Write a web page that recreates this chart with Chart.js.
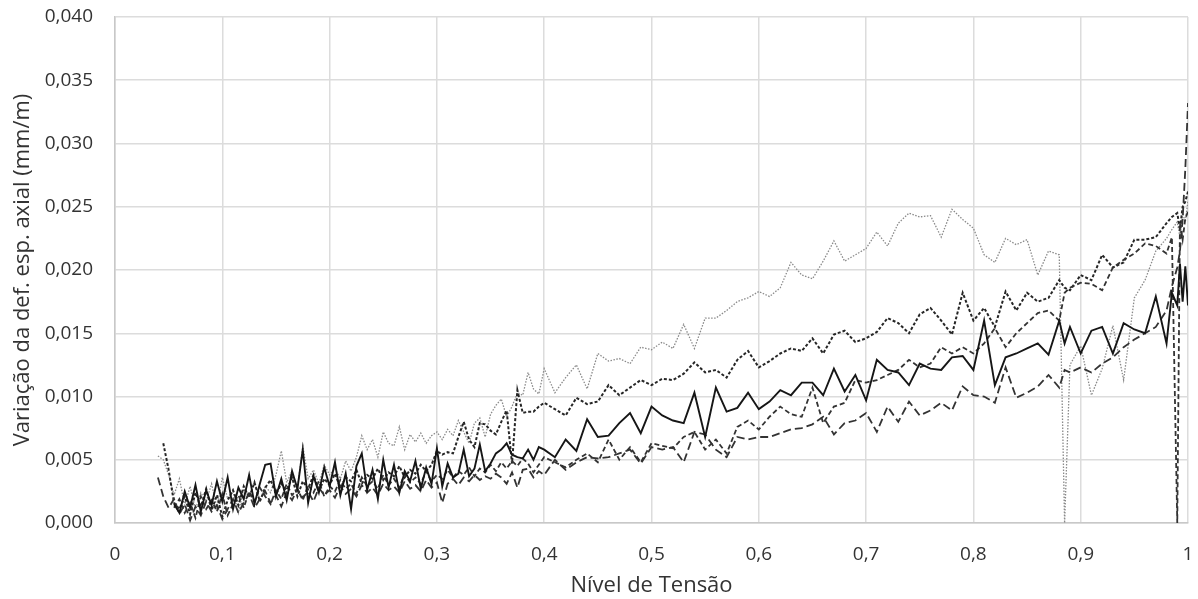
<!DOCTYPE html>
<html>
<head>
<meta charset="utf-8">
<script src="https://cdn.jsdelivr.net/npm/chart.js@4.4.1/dist/chart.umd.min.js"></script>
<style>
  html, body { margin: 0; padding: 0; background: #fff; }
  #wrap { width: 1198px; height: 599px; }
</style>
</head>
<body>
<div id="wrap"><canvas id="grafico" width="1198" height="599"></canvas></div>
<script>
// Nível de tensão (eixo x)
const nivel = [
  0.040, 0.045, 0.050, 0.055, 0.060, 0.065, 0.070, 0.075, 0.080, 0.085,
  0.090, 0.095, 0.100, 0.105, 0.110, 0.115, 0.120, 0.125, 0.130, 0.135,
  0.140, 0.145, 0.150, 0.155, 0.160, 0.165, 0.170, 0.175, 0.180, 0.185,
  0.190, 0.195, 0.200, 0.205, 0.210, 0.215, 0.220, 0.225, 0.230, 0.235,
  0.240, 0.245, 0.250, 0.255, 0.260, 0.265, 0.270, 0.275, 0.280, 0.285,
  0.290, 0.295, 0.300, 0.305, 0.310, 0.315, 0.320, 0.325, 0.330, 0.335,
  0.340, 0.345, 0.350, 0.355, 0.360, 0.365, 0.370, 0.375, 0.380, 0.385,
  0.390, 0.395, 0.400,
  0.41, 0.42, 0.43, 0.44, 0.45, 0.46, 0.47, 0.48, 0.49, 0.50,
  0.51, 0.52, 0.53, 0.54, 0.55, 0.56, 0.57, 0.58, 0.59, 0.60,
  0.61, 0.62, 0.63, 0.64, 0.65, 0.66, 0.67, 0.68, 0.69, 0.70,
  0.71, 0.72, 0.73, 0.74, 0.75, 0.76, 0.77, 0.78, 0.79, 0.80,
  0.81, 0.82, 0.83, 0.84, 0.85, 0.86, 0.87, 0.88,
  0.885,
  0.89, 0.90, 0.91, 0.92, 0.93, 0.94, 0.95, 0.96, 0.97, 0.98,
  0.985, 0.99, 0.9925, 0.995, 0.9975, 1.0
];

// variação da def. esp. axial (mm/m) por ensaio
const serieContinua = [
  null, null, null, 0.0015, 0.0008, 0.0025, 0.0012, 0.003, 0.0009, 0.0026,
  0.0014, 0.0033, 0.0017, 0.0036, 0.0011, 0.0028, 0.0019, 0.0038, 0.0015, 0.0031,
  0.0046, 0.0047, 0.0021, 0.0035, 0.0018, 0.0041, 0.0027, 0.0058, 0.0016, 0.0037,
  0.0024, 0.0044, 0.0029, 0.0048, 0.0022, 0.0039, 0.0011, 0.0045, 0.0055, 0.0026,
  0.0042, 0.0019, 0.005, 0.0028, 0.0046, 0.0024, 0.0041, 0.0033, 0.0049, 0.0027,
  0.0044, 0.0031, 0.0059, 0.0029, 0.0047, 0.0036, 0.0039, 0.0058, 0.0037, 0.0043,
  0.0062, 0.0041, 0.0047, 0.0055, 0.0058, 0.0063, 0.0054, 0.0052, 0.0051, 0.0058,
  0.005, 0.006, 0.0058,
  0.0052, 0.0066, 0.0057, 0.0082, 0.0068, 0.0069, 0.0079, 0.0087, 0.0071, 0.0092,
  0.0085, 0.0081, 0.0079, 0.0103, 0.0068, 0.0107, 0.0088, 0.0091, 0.0103, 0.009,
  0.0096, 0.0105, 0.0101, 0.0111, 0.0111, 0.0101, 0.0122, 0.0104, 0.0117, 0.0097,
  0.0129, 0.0121, 0.0119, 0.0109, 0.0126, 0.0122, 0.0121, 0.0131, 0.0132, 0.0121,
  0.016, 0.0109, 0.0131, 0.0134, 0.0138, 0.0142, 0.0133, 0.016,
  0.0142,
  0.0155, 0.0134, 0.0152, 0.0155, 0.0134, 0.0158, 0.0153, 0.015, 0.0179, 0.0142,
  0.0182, 0.0172, 0.0205, 0.0175, 0.0203, 0.0172
];

const seriePontilhada = [
  0.0053, 0.005, 0.0038, 0.0022, 0.0035, 0.0014, 0.0029, 0.0011, 0.0024, 0.0017,
  0.0031, 0.0012, 0.0036, 0.0019, 0.0025, 0.0008, 0.0027, 0.0021, 0.0033, 0.0018,
  0.0029, 0.0024, 0.0038, 0.0057, 0.0032, 0.0041, 0.0027, 0.0061, 0.0035, 0.0042,
  0.0031, 0.0046, 0.0038, 0.0043, 0.0035, 0.0049, 0.0041, 0.0052, 0.0069, 0.0058,
  0.0066, 0.0052, 0.0072, 0.0063, 0.0061, 0.0076, 0.0058, 0.007, 0.0064, 0.0071,
  0.0063, 0.0069, 0.0072, 0.0066, 0.0074, 0.0069, 0.0081, 0.0072, 0.0063, 0.0079,
  0.0083, 0.0068, 0.0086, 0.0093, 0.0098, 0.0084, 0.0092, 0.0103, 0.0101, 0.0119,
  0.0106, 0.0102, 0.0122,
  0.0103, 0.0115, 0.0125, 0.0106, 0.0134, 0.0128, 0.013, 0.0126, 0.0139, 0.0137,
  0.0143, 0.0138, 0.0157, 0.0138, 0.0162, 0.0162, 0.0168, 0.0175, 0.0178, 0.0183,
  0.0179, 0.0186, 0.0206, 0.0196, 0.0193, 0.0207, 0.0223, 0.0207, 0.0212, 0.0217,
  0.023, 0.0219, 0.0237, 0.0245, 0.0242, 0.0243, 0.0226, 0.0248, 0.024, 0.0233,
  0.0212, 0.0206, 0.0225, 0.022, 0.0224, 0.0196, 0.0215, 0.0212,
  0,
  0.0125, 0.014, 0.0101, 0.0122, 0.0156, 0.0113, 0.0178, 0.0192, 0.0215, 0.0225,
  0.0232, 0.0238, 0.0226, 0.0245, 0.0238, 0.0255
];

const serieTracoCurto = [
  null, 0.0063, 0.0042, 0.0016, 0.0011, 0.0021, 0.0007, 0.0024, 0.0013, 0.0027,
  0.001, 0.0022, 0.0005, 0.0018, 0.0026, 0.0014, 0.0029, 0.002, 0.0032, 0.0017,
  0.0028, 0.0034, 0.0023, 0.0031, 0.0026, 0.0036, 0.0021, 0.0033, 0.0027, 0.0038,
  0.0025, 0.0035, 0.003, 0.0039, 0.0028, 0.0036, 0.0033, 0.0042, 0.0031, 0.0038,
  0.0035, 0.0043, 0.0034, 0.004, 0.0037, 0.0045, 0.0036, 0.0042, 0.0039, 0.0046,
  0.0041, 0.0046, 0.0057, 0.0054, 0.0056, 0.0055, 0.0068, 0.008, 0.0066, 0.006,
  0.0079, 0.0078, 0.0073, 0.007, 0.008, 0.0089, 0.0047, 0.0105, 0.0087, 0.0088,
  0.0088, 0.0092, 0.0095,
  0.009, 0.0085, 0.0099, 0.0094, 0.0096, 0.0109, 0.0101, 0.0107, 0.0113, 0.0109,
  0.0114, 0.0113, 0.0118, 0.0127, 0.0119, 0.0121, 0.0115, 0.0129, 0.0136, 0.0123,
  0.0128, 0.0134, 0.0138, 0.0136, 0.0146, 0.0134, 0.0149, 0.0152, 0.0143, 0.0146,
  0.0151, 0.0162, 0.0158, 0.015, 0.0165, 0.017, 0.016, 0.0149, 0.0182, 0.016,
  0.017, 0.0155, 0.0183, 0.0168, 0.0182, 0.0175, 0.0178, 0.0192,
  0.0186,
  0.0184, 0.0196, 0.0192, 0.0212, 0.0202, 0.0206, 0.0224, 0.0224, 0.0226, 0.0237,
  0.0242, 0.0245, 0.0232, 0.025, 0.0254, 0.0262
];

const serieTracoMedio = [
  null, null, null, 0.0012, 0.0019, 0.0008, 0.0016, 0.0004, 0.0021, 0.0011,
  0.0018, 0.0009, 0.0023, 0.0006, 0.0015, 0.0022, 0.0012, 0.0025, 0.0017, 0.0028,
  0.0021, 0.0015, 0.0026, 0.0019, 0.0031, 0.0022, 0.0027, 0.0018, 0.003, 0.0024,
  0.0033, 0.0021, 0.0029, 0.0025, 0.0034, 0.0027, 0.0031, 0.0023, 0.0036, 0.0029,
  0.0033, 0.0027, 0.0038, 0.003, 0.0035, 0.0028, 0.0039, 0.0032, 0.0036, 0.0031,
  0.0041, 0.0033, 0.0038, 0.0035, 0.0042, 0.0036, 0.0041, 0.0038, 0.0044, 0.0037,
  0.0043, 0.004, 0.0046, 0.0041, 0.0048, 0.0043, 0.0049, 0.0045, 0.0051, 0.0047,
  0.004, 0.0046, 0.0052,
  0.0048, 0.0044, 0.005, 0.0055, 0.0048, 0.0066, 0.005, 0.006, 0.0048, 0.0063,
  0.0061, 0.0059, 0.0068, 0.0072, 0.0058, 0.0066, 0.0055, 0.0076, 0.0081, 0.0074,
  0.0084, 0.0092, 0.0086, 0.0084, 0.0107, 0.0079, 0.0092, 0.0095, 0.0113, 0.0111,
  0.0113, 0.0117, 0.0121, 0.0129, 0.0123, 0.0126, 0.0139, 0.0134, 0.0139, 0.0134,
  0.0142, 0.0154, 0.0139, 0.015, 0.0158, 0.0166, 0.0168, 0.016,
  0.0182,
  0.0186, 0.019, 0.0189, 0.0184, 0.0202, 0.0208, 0.0213, 0.0221, 0.0219, 0.0213,
  0.0226, 0, 0.0237, 0.0224, 0.0241, 0.0246
];

const serieTracoLongo = [
  0.0036, 0.0021, 0.0012, 0.0019, 0.0007, 0.0015, 0.0002, 0.0013, 0.0006, 0.0017,
  0.0009, 0.0014, 0.0003, 0.0011, 0.0019, 0.0008, 0.0016, 0.0023, 0.0012, 0.0019,
  0.0025, 0.0016, 0.0022, 0.0013, 0.0024, 0.0018, 0.0027, 0.002, 0.0025, 0.0017,
  0.0028, 0.0022, 0.0026, 0.002, 0.0029, 0.0023, 0.0027, 0.0021, 0.003, 0.0024,
  0.0028, 0.0022, 0.0031, 0.0026, 0.0029, 0.0024, 0.0033, 0.0027, 0.003, 0.0025,
  0.0034, 0.0028, 0.0032, 0.0016, 0.0031, 0.0035, 0.003, 0.0036, 0.0033, 0.0038,
  0.0034, 0.0037, 0.0035, 0.0039, 0.0036, 0.0031, 0.004, 0.0028, 0.0042, 0.0043,
  0.0036, 0.0041, 0.0038,
  0.005, 0.0042, 0.0048, 0.0052, 0.0051, 0.0052, 0.0055, 0.0058, 0.0047, 0.006,
  0.0058, 0.006, 0.0048, 0.0072, 0.007, 0.0058, 0.0052, 0.0068, 0.0066, 0.0068,
  0.0068, 0.0071, 0.0074, 0.0075, 0.0078, 0.0084, 0.007, 0.0079, 0.0081, 0.0087,
  0.0072, 0.0092, 0.008, 0.0096, 0.0085, 0.0089, 0.0095, 0.0089, 0.0108, 0.0101,
  0.01, 0.0095, 0.0123, 0.0099, 0.0103, 0.0108, 0.0117, 0.0107,
  0.0121,
  0.0119, 0.0123, 0.0119, 0.0126, 0.0131, 0.0139, 0.0145, 0.015, 0.0155, 0.0168,
  0.0187, 0.0202, 0.0215, 0.024, 0.028, 0.0332
];

const fonte = "'Open Sans', 'Noto Sans', sans-serif";
const corTexto = '#333333';
const virgula = (v, casas) => v.toFixed(casas).replace('.', ',');

const pontos = serie => nivel.map((x, i) => ({ x: x, y: serie[i] }));

const linha = (serie, cor, largura, traco) => ({
  data: pontos(serie),
  borderColor: cor,
  borderWidth: largura,
  borderDash: traco,
  pointRadius: 0,
  tension: 0,
  fill: false
});

new Chart(document.getElementById('grafico'), {
  type: 'line',
  data: {
    datasets: [
      linha(serieContinua, '#161616', 1.9, []),
      linha(serieTracoMedio, '#333333', 1.8, [5, 3]),
      linha(serieTracoLongo, '#333333', 1.8, [8, 4]),
      linha(serieTracoCurto, '#262626', 2, [3, 2]),
      linha(seriePontilhada, '#8a8a8a', 1.3, [1.5, 1.5])
    ]
  },
  options: {
    responsive: false,
    animation: false,
    layout: { padding: { left: 0, right: 10, top: 17, bottom: 0 } },
    plugins: { legend: { display: false }, tooltip: { enabled: false } },
    scales: {
      x: {
        type: 'linear',
        min: 0,
        max: 1,
        ticks: {
          stepSize: 0.1,
          color: corTexto,
          font: { family: fonte, size: 19 },
          padding: 20,
          maxRotation: 0,
          callback: v => String(Math.round(v * 10) / 10).replace('.', ',')
        },
        grid: { color: '#dcdcdc', lineWidth: 1.5, drawTicks: false },
        border: { color: '#c8c8c8', width: 1.5 },
        title: {
          display: true,
          text: 'Nível de Tensão',
          color: corTexto,
          font: { family: fonte, size: 22 },
          padding: { top: 0, bottom: 0 }
        },
        afterFit: s => {
          s.height = 76;
          s.paddingLeft = 0;
          s.paddingRight = 0;
        }
      },
      y: {
        min: 0,
        max: 0.04,
        ticks: {
          stepSize: 0.005,
          color: corTexto,
          font: { family: fonte, size: 19 },
          padding: 22,
          callback: v => virgula(v, 3)
        },
        grid: { color: '#dcdcdc', lineWidth: 1.5, drawTicks: false },
        border: { color: '#c8c8c8', width: 1.5 },
        title: {
          display: true,
          text: 'Variação da def. esp. axial (mm/m)',
          color: corTexto,
          font: { family: fonte, size: 22 },
          padding: { top: 10, bottom: 0 }
        },
        afterFit: s => {
          s.width = 115;
          s.paddingTop = 0;
          s.paddingBottom = 0;
        }
      }
    }
  }
});
</script>
</body>
</html>
